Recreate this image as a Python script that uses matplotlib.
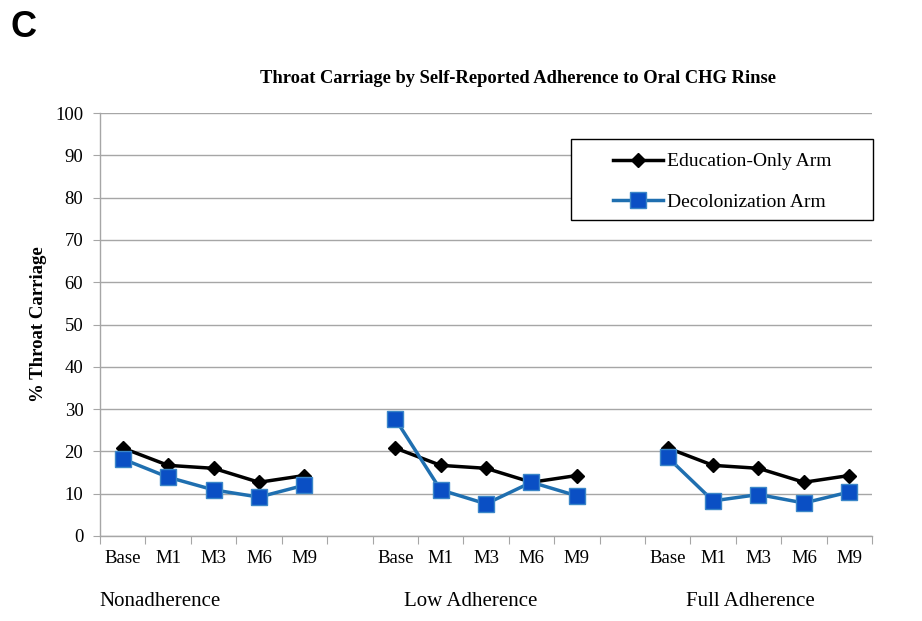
import numpy as np
import matplotlib
matplotlib.use("Agg")
import matplotlib.pyplot as plt
from matplotlib.patches import Rectangle

# Data
timepoints = ["Base", "M1", "M3", "M6", "M9"]
groups = ["Nonadherence", "Low Adherence", "Full Adherence"]

edu_non = [20.8, 16.7, 16.0, 12.7, 14.3]
edu_low = [20.8, 16.7, 16.0, 12.7, 14.3]
edu_full = [20.8, 16.7, 16.0, 12.7, 14.3]

dec_non = [18.2, 13.9, 10.9, 9.2, 12.0]
dec_low = [27.7, 10.9, 7.6, 12.7, 9.5]
dec_full = [18.6, 8.3, 9.8, 7.8, 10.4]

serif = "Liberation Serif"

# 17 category slots: 5 points, a blank, 5 points, a blank, 5 points
def with_gaps(a, b, c):
    return list(a) + [np.nan] + list(b) + [np.nan] + list(c)

edu = with_gaps(edu_non, edu_low, edu_full)
dec = with_gaps(dec_non, dec_low, dec_full)
labels = with_gaps(timepoints, timepoints, timepoints)
labels = ["" if isinstance(l, float) else l for l in labels]
x = np.arange(len(edu))

fig = plt.figure(figsize=(9.22, 6.21), dpi=100)
ax = fig.add_axes([0.1085, 0.1369, 0.8373, 0.6811])

ax.plot(x, edu, color="black", lw=2.5, marker="D", ms=7.5,
        mfc="black", mec="black", label="Education\u2010Only Arm", zorder=3)
ax.plot(x, dec, color="#1f6fb0", lw=2.5, marker="s", ms=11,
        mfc="#0a4fc4", mec="#3a86c8", mew=1, label="Decolonization Arm", zorder=4)

ax.set_xlim(-0.5, len(x) - 0.5)
ax.set_ylim(0, 100)
ax.set_yticks(range(0, 101, 10))
ax.yaxis.grid(True, color="#a6a6a6", lw=1)
ax.set_axisbelow(True)

ax.set_xticks(np.arange(-0.5, len(x), 1.0))
ax.set_xticklabels([])
ax.set_xticks(x, minor=True)
ax.set_xticklabels(labels, minor=True, fontfamily=serif, fontsize=13.5)
ax.tick_params(axis="x", which="major", length=6, color="#a6a6a6", direction="out")
ax.tick_params(axis="x", which="minor", length=0, pad=10)
ax.tick_params(axis="y", length=5, color="#a6a6a6", pad=7)
for lab in ax.get_yticklabels():
    lab.set_fontfamily(serif)
    lab.set_fontsize(13.5)

for s in ["top", "right"]:
    ax.spines[s].set_visible(False)
for s in ["left", "bottom"]:
    ax.spines[s].set_color("#a6a6a6")
    ax.spines[s].set_linewidth(1)

ax.set_ylabel("% Throat Carriage", fontfamily=serif, fontsize=13.5,
              fontweight="bold", labelpad=6)

# group labels under the tick labels
group_x = [0.82, 7.67, 13.82]
for gx, g in zip(group_x, groups):
    ax.text(gx, -15.5, g, ha="center", va="center", fontfamily=serif,
            fontsize=15, transform=ax.transData, clip_on=False)

fig.text(0.5623, 0.873, "Throat Carriage by Self\u2010Reported Adherence to Oral CHG Rinse",
         ha="center", va="center", fontfamily=serif, fontsize=13.3, fontweight="bold")
fig.text(0.011, 0.955, "C", ha="left", va="center", fontfamily="Liberation Sans",
         fontsize=26, fontweight="bold")

# legend box drawn as a plain rectangle, entries centred inside
bx, by, bw, bh = 571 / 922, 1 - 220 / 621, 302 / 922, 81 / 621
fig.patches.append(Rectangle((bx, by), bw, bh, transform=fig.transFigure,
                             fill=True, facecolor="white", edgecolor="black",
                             lw=1, zorder=5))
leg = fig.legend(*ax.get_legend_handles_labels(), loc="center",
                 bbox_to_anchor=(bx + bw / 2, by + bh / 2 - 0.004),
                 bbox_transform=fig.transFigure, frameon=False,
                 prop={"family": serif, "size": 14}, handlelength=2.6,
                 labelspacing=1.2, handletextpad=0.2, borderpad=0)
leg.set_zorder(6)

fig.savefig("out.png", dpi=100)
